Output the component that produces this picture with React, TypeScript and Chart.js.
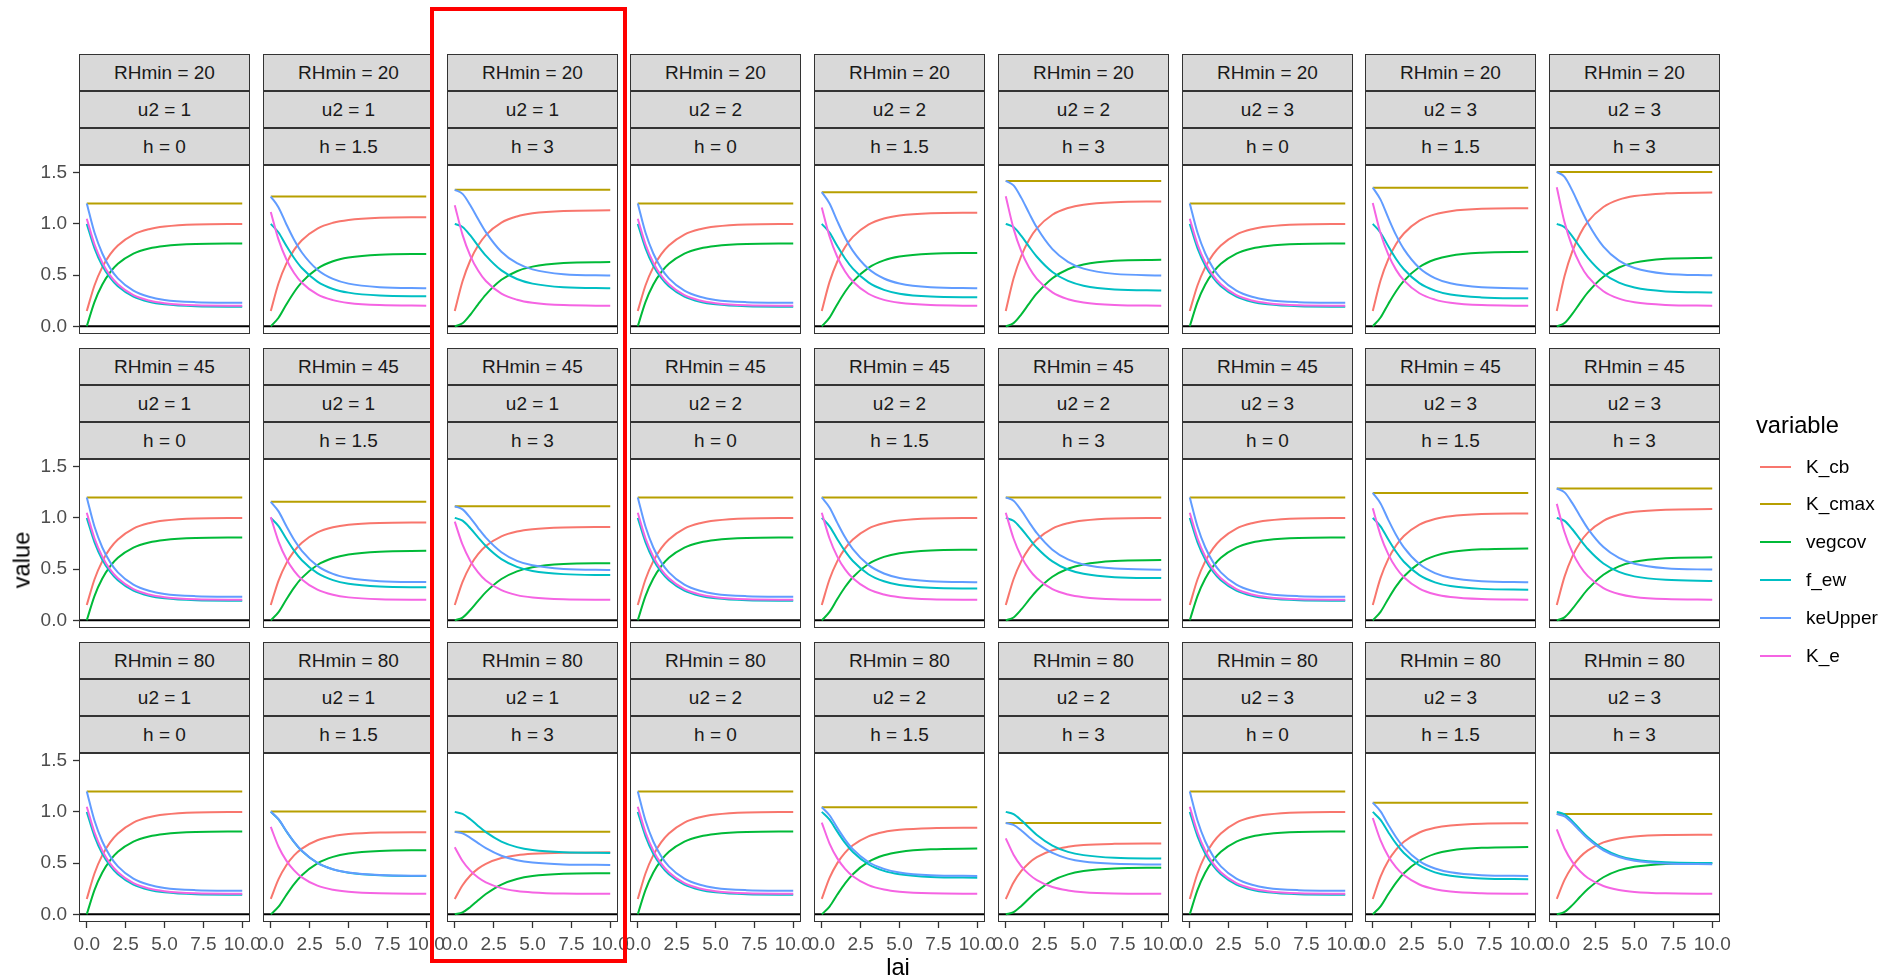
import React, { useEffect, useRef } from 'react';
import { Chart, registerables } from 'chart.js';

Chart.register(...registerables);

const FONT = '"Liberation Sans", Arial, Helvetica, sans-serif';

// ---------------- data ----------------
const rhminLevels = [20, 45, 80];
const u2Levels = [1, 1, 1, 2, 2, 2, 3, 3, 3];
const hLevels = ['0', '1.5', '3', '0', '1.5', '3', '0', '1.5', '3'];
const variableNames = ['K_cb', 'K_cmax', 'vegcov', 'f_ew', 'keUpper', 'K_e'];
const variableColors = ['#F8766D', '#B79F00', '#00BA38', '#00BFC4', '#619CFF', '#F564E3'];
const lai = [0, 0.5, 1, 1.5, 2, 3, 4, 5, 7, 10];
const laiRange = [0, 10];
const hlineValue = 0;
const xTickValues = [0, 2.5, 5, 7.5, 10];
const xTickLabels = ['0.0', '2.5', '5.0', '7.5', '10.0'];
const yTickValues = [0, 0.5, 1, 1.5];
const yTickLabels = ['0.0', '0.5', '1.0', '1.5'];

// K_cmax (constant in lai) per panel, rows RHmin 20 / 45 / 80
const kcmaxRH20 = [1.2, 1.267, 1.333, 1.2, 1.31, 1.42, 1.2, 1.354, 1.507];
const kcmaxRH45 = [1.2, 1.157, 1.113, 1.2, 1.2, 1.2, 1.2, 1.244, 1.287];
const kcmaxRH80 = [1.2, 1.003, 0.805, 1.2, 1.046, 0.892, 1.2, 1.09, 0.979];

// h = 0 panels (identical for every RHmin / u2)
const H0_KCB = [0.15, 0.401, 0.578, 0.703, 0.79, 0.896, 0.948, 0.974, 0.994, 0.999];
const H0_VEG = [0, 0.239, 0.408, 0.526, 0.61, 0.71, 0.76, 0.785, 0.804, 0.809];
const H0_FEW = [1, 0.761, 0.592, 0.474, 0.39, 0.29, 0.24, 0.215, 0.196, 0.191];
const H0_KEU = [1.2, 0.913, 0.711, 0.568, 0.468, 0.348, 0.288, 0.258, 0.236, 0.229];
const H0_KE = [1.05, 0.799, 0.622, 0.497, 0.41, 0.304, 0.252, 0.226, 0.206, 0.201];

const kcbRH20 = [
  H0_KCB,
  [0.15, 0.421, 0.612, 0.746, 0.841, 0.955, 1.011, 1.039, 1.06, 1.066],
  [0.15, 0.44, 0.645, 0.789, 0.891, 1.013, 1.073, 1.103, 1.126, 1.132],
  H0_KCB,
  [0.15, 0.434, 0.633, 0.774, 0.873, 0.992, 1.052, 1.081, 1.103, 1.109],
  [0.15, 0.466, 0.689, 0.846, 0.956, 1.089, 1.155, 1.188, 1.212, 1.219],
  H0_KCB,
  [0.15, 0.447, 0.655, 0.803, 0.906, 1.031, 1.093, 1.124, 1.147, 1.153],
  [0.15, 0.492, 0.732, 0.902, 1.022, 1.165, 1.237, 1.272, 1.298, 1.306],
];
const kcbRH45 = [
  H0_KCB,
  [0.15, 0.388, 0.556, 0.675, 0.758, 0.858, 0.908, 0.933, 0.951, 0.956],
  [0.15, 0.375, 0.534, 0.646, 0.725, 0.82, 0.867, 0.89, 0.907, 0.912],
  H0_KCB,
  H0_KCB,
  H0_KCB,
  H0_KCB,
  [0.15, 0.414, 0.6, 0.731, 0.824, 0.935, 0.99, 1.017, 1.037, 1.043],
  [0.15, 0.427, 0.622, 0.759, 0.856, 0.972, 1.03, 1.059, 1.08, 1.086],
];
const kcbRH80 = [
  H0_KCB,
  [0.15, 0.343, 0.479, 0.575, 0.642, 0.723, 0.763, 0.783, 0.798, 0.802],
  [0.15, 0.284, 0.379, 0.446, 0.493, 0.549, 0.577, 0.591, 0.602, 0.605],
  H0_KCB,
  [0.15, 0.356, 0.5, 0.603, 0.674, 0.761, 0.804, 0.825, 0.841, 0.845],
  [0.15, 0.31, 0.423, 0.502, 0.558, 0.626, 0.659, 0.676, 0.688, 0.692],
  H0_KCB,
  [0.15, 0.369, 0.523, 0.631, 0.708, 0.799, 0.845, 0.868, 0.885, 0.889],
  [0.15, 0.336, 0.467, 0.559, 0.624, 0.702, 0.741, 0.76, 0.774, 0.778],
];

const vegRH20 = [
  H0_VEG,
  [0, 0.084, 0.213, 0.333, 0.431, 0.563, 0.635, 0.671, 0.699, 0.707],
  [0, 0.03, 0.113, 0.215, 0.31, 0.454, 0.538, 0.583, 0.618, 0.628],
  H0_VEG,
  [0, 0.085, 0.216, 0.338, 0.437, 0.571, 0.644, 0.681, 0.709, 0.717],
  [0, 0.031, 0.117, 0.222, 0.321, 0.47, 0.557, 0.603, 0.64, 0.65],
  H0_VEG,
  [0, 0.086, 0.219, 0.343, 0.443, 0.579, 0.652, 0.69, 0.718, 0.727],
  [0, 0.032, 0.121, 0.229, 0.331, 0.484, 0.574, 0.622, 0.659, 0.67],
];
const vegRH45 = [
  H0_VEG,
  [0, 0.08, 0.204, 0.32, 0.414, 0.54, 0.608, 0.643, 0.67, 0.678],
  [0, 0.027, 0.101, 0.19, 0.275, 0.403, 0.478, 0.518, 0.549, 0.558],
  H0_VEG,
  [0, 0.082, 0.208, 0.325, 0.421, 0.55, 0.619, 0.655, 0.682, 0.69],
  [0, 0.028, 0.106, 0.201, 0.291, 0.425, 0.504, 0.546, 0.579, 0.588],
  H0_VEG,
  [0, 0.083, 0.211, 0.331, 0.428, 0.559, 0.629, 0.666, 0.693, 0.701],
  [0, 0.029, 0.111, 0.21, 0.304, 0.445, 0.527, 0.571, 0.605, 0.615],
];
const vegRH80 = [
  H0_VEG,
  [0, 0.074, 0.189, 0.295, 0.382, 0.498, 0.561, 0.594, 0.619, 0.626],
  [0, 0.019, 0.072, 0.137, 0.198, 0.29, 0.344, 0.373, 0.395, 0.401],
  H0_VEG,
  [0, 0.076, 0.193, 0.303, 0.392, 0.511, 0.576, 0.609, 0.635, 0.642],
  [0, 0.022, 0.082, 0.155, 0.225, 0.329, 0.39, 0.422, 0.448, 0.455],
  H0_VEG,
  [0, 0.078, 0.198, 0.31, 0.401, 0.523, 0.59, 0.624, 0.65, 0.657],
  [0, 0.024, 0.09, 0.171, 0.247, 0.362, 0.429, 0.464, 0.492, 0.5],
];

const fewRH20 = [
  H0_FEW,
  [1, 0.916, 0.787, 0.667, 0.569, 0.437, 0.365, 0.329, 0.301, 0.293],
  [1, 0.97, 0.887, 0.785, 0.69, 0.546, 0.462, 0.417, 0.382, 0.372],
  H0_FEW,
  [1, 0.915, 0.784, 0.662, 0.563, 0.429, 0.356, 0.319, 0.291, 0.283],
  [1, 0.969, 0.883, 0.778, 0.679, 0.53, 0.443, 0.397, 0.36, 0.35],
  H0_FEW,
  [1, 0.914, 0.781, 0.657, 0.557, 0.421, 0.348, 0.31, 0.282, 0.273],
  [1, 0.968, 0.879, 0.771, 0.669, 0.516, 0.426, 0.378, 0.341, 0.33],
];
const fewRH45 = [
  H0_FEW,
  [1, 0.92, 0.796, 0.68, 0.586, 0.46, 0.392, 0.357, 0.33, 0.322],
  [1, 0.973, 0.899, 0.81, 0.725, 0.597, 0.522, 0.482, 0.451, 0.442],
  H0_FEW,
  [1, 0.918, 0.792, 0.675, 0.579, 0.45, 0.381, 0.345, 0.318, 0.31],
  [1, 0.972, 0.894, 0.799, 0.709, 0.575, 0.496, 0.454, 0.421, 0.412],
  H0_FEW,
  [1, 0.917, 0.789, 0.669, 0.572, 0.441, 0.371, 0.334, 0.307, 0.299],
  [1, 0.971, 0.889, 0.79, 0.696, 0.555, 0.473, 0.429, 0.395, 0.385],
];
const fewRH80 = [
  H0_FEW,
  [1, 0.926, 0.811, 0.705, 0.618, 0.502, 0.439, 0.406, 0.381, 0.374],
  [1, 0.981, 0.928, 0.863, 0.802, 0.71, 0.656, 0.627, 0.605, 0.599],
  H0_FEW,
  [1, 0.924, 0.807, 0.697, 0.608, 0.489, 0.424, 0.391, 0.365, 0.358],
  [1, 0.978, 0.918, 0.845, 0.775, 0.671, 0.61, 0.578, 0.552, 0.545],
  H0_FEW,
  [1, 0.922, 0.802, 0.69, 0.599, 0.477, 0.41, 0.376, 0.35, 0.343],
  [1, 0.976, 0.91, 0.829, 0.753, 0.638, 0.571, 0.536, 0.508, 0.5],
];

const keuRH20 = [
  H0_KEU,
  [1.267, 1.161, 0.997, 0.845, 0.721, 0.553, 0.463, 0.417, 0.382, 0.371],
  [1.333, 1.293, 1.182, 1.047, 0.92, 0.728, 0.616, 0.556, 0.509, 0.496],
  H0_KEU,
  [1.31, 1.199, 1.027, 0.867, 0.737, 0.562, 0.467, 0.419, 0.382, 0.371],
  [1.42, 1.376, 1.254, 1.105, 0.964, 0.753, 0.629, 0.563, 0.512, 0.497],
  H0_KEU,
  [1.354, 1.237, 1.058, 0.89, 0.754, 0.57, 0.471, 0.42, 0.381, 0.37],
  [1.507, 1.459, 1.325, 1.162, 1.009, 0.778, 0.642, 0.57, 0.514, 0.498],
];
const keuRH45 = [
  H0_KEU,
  [1.157, 1.064, 0.921, 0.787, 0.679, 0.532, 0.453, 0.413, 0.382, 0.373],
  [1.113, 1.083, 1.001, 0.901, 0.807, 0.665, 0.581, 0.537, 0.502, 0.492],
  H0_KEU,
  [1.2, 1.102, 0.951, 0.81, 0.695, 0.541, 0.457, 0.414, 0.382, 0.372],
  [1.2, 1.167, 1.073, 0.959, 0.851, 0.69, 0.595, 0.545, 0.505, 0.494],
  H0_KEU,
  [1.244, 1.141, 0.981, 0.833, 0.712, 0.549, 0.461, 0.416, 0.382, 0.372],
  [1.287, 1.249, 1.144, 1.017, 0.896, 0.715, 0.609, 0.552, 0.508, 0.495],
];
const keuRH80 = [
  H0_KEU,
  [1.003, 0.929, 0.814, 0.707, 0.62, 0.503, 0.44, 0.408, 0.383, 0.376],
  [0.805, 0.79, 0.747, 0.695, 0.646, 0.572, 0.528, 0.505, 0.487, 0.482],
  H0_KEU,
  [1.046, 0.967, 0.844, 0.73, 0.636, 0.511, 0.444, 0.409, 0.382, 0.375],
  [0.892, 0.873, 0.819, 0.753, 0.692, 0.599, 0.544, 0.515, 0.493, 0.486],
  H0_KEU,
  [1.09, 1.005, 0.874, 0.752, 0.653, 0.52, 0.447, 0.41, 0.382, 0.374],
  [0.979, 0.956, 0.891, 0.812, 0.737, 0.625, 0.559, 0.524, 0.497, 0.489],
];

const keRH20 = [
  H0_KE,
  [1.117, 0.846, 0.655, 0.521, 0.426, 0.312, 0.256, 0.228, 0.207, 0.201],
  [1.183, 0.893, 0.688, 0.544, 0.442, 0.32, 0.26, 0.23, 0.207, 0.201],
  H0_KE,
  [1.16, 0.877, 0.677, 0.536, 0.437, 0.318, 0.258, 0.229, 0.207, 0.201],
  [1.27, 0.954, 0.731, 0.574, 0.464, 0.331, 0.265, 0.232, 0.208, 0.201],
  H0_KE,
  [1.204, 0.908, 0.699, 0.551, 0.448, 0.323, 0.261, 0.23, 0.207, 0.201],
  [1.357, 1.015, 0.775, 0.605, 0.485, 0.342, 0.27, 0.235, 0.209, 0.201],
];
const keRH45 = [
  H0_KE,
  [1.007, 0.769, 0.601, 0.482, 0.399, 0.299, 0.249, 0.224, 0.206, 0.201],
  [0.963, 0.738, 0.579, 0.467, 0.388, 0.294, 0.246, 0.223, 0.206, 0.201],
  H0_KE,
  H0_KE,
  H0_KE,
  H0_KE,
  [1.094, 0.83, 0.644, 0.513, 0.421, 0.31, 0.254, 0.227, 0.207, 0.201],
  [1.137, 0.86, 0.665, 0.528, 0.431, 0.315, 0.257, 0.228, 0.207, 0.201],
];
const keRH80 = [
  H0_KE,
  [0.853, 0.66, 0.524, 0.429, 0.361, 0.28, 0.24, 0.22, 0.205, 0.201],
  [0.655, 0.521, 0.426, 0.359, 0.312, 0.256, 0.228, 0.214, 0.203, 0.2],
  H0_KE,
  [0.896, 0.691, 0.546, 0.444, 0.372, 0.285, 0.242, 0.221, 0.205, 0.201],
  [0.742, 0.582, 0.469, 0.39, 0.334, 0.266, 0.233, 0.216, 0.204, 0.201],
  H0_KE,
  [0.94, 0.722, 0.568, 0.459, 0.383, 0.291, 0.245, 0.222, 0.206, 0.201],
  [0.829, 0.643, 0.512, 0.42, 0.355, 0.277, 0.238, 0.219, 0.205, 0.201],
];

const kcmaxRows = [kcmaxRH20, kcmaxRH45, kcmaxRH80];
const kcbRows = [kcbRH20, kcbRH45, kcbRH80];
const vegRows = [vegRH20, vegRH45, vegRH80];
const fewRows = [fewRH20, fewRH45, fewRH80];
const keuRows = [keuRH20, keuRH45, keuRH80];
const keRows = [keRH20, keRH45, keRH80];

// ---------------- layout ----------------
const panelLefts = [79, 263, 447, 630, 814, 998, 1182, 1365, 1549];
const panelTops = [165, 459, 753];
const panelW = 171;
const panelH = 169;
const stripH = 37;

const framePlugin = {
  id: 'panelFrame',
  beforeDatasetsDraw(chart: any) {
    const { ctx, chartArea: a, scales } = chart;
    const y0 = scales.y.getPixelForValue(hlineValue);
    ctx.save();
    ctx.strokeStyle = '#000000';
    ctx.lineWidth = 2;
    ctx.beginPath();
    ctx.moveTo(a.left, y0);
    ctx.lineTo(a.right, y0);
    ctx.stroke();
    ctx.restore();
  },
  afterDraw(chart: any) {
    const { ctx, chartArea: a } = chart;
    ctx.save();
    ctx.strokeStyle = '#333333';
    ctx.lineWidth = 1;
    ctx.strokeRect(a.left + 0.5, a.top + 0.5, a.right - a.left - 1, a.bottom - a.top - 1);
    ctx.restore();
  },
};

function Panel({ row, col }: { row: number; col: number }) {
  const ref = useRef<HTMLCanvasElement>(null);
  const showY = col === 0;
  const showX = row === 2;
  const L = panelLefts[col];
  const T = panelTops[row];
  const padL = showY ? L : 40;
  const padR = 40;
  const padT = 30;
  const padB = showX ? 56 : 30;
  const cw = panelW + padL + padR;
  const ch = panelH + padT + padB;

  useEffect(() => {
    const C = kcmaxRows[row][col];
    const curves = [
      kcbRows[row][col],
      null,
      vegRows[row][col],
      fewRows[row][col],
      keuRows[row][col],
      keRows[row][col],
    ];
    const datasets = variableNames.map((name, i) => {
      const arr = curves[i];
      const data = arr
        ? arr.map((y: number, j: number) => ({ x: lai[j], y }))
        : laiRange.map((x) => ({ x, y: C }));
      return {
        label: name,
        data,
        borderColor: variableColors[i],
        backgroundColor: variableColors[i],
        borderWidth: 2,
        pointRadius: 0,
        fill: false,
        tension: 0,
        cubicInterpolationMode: 'monotone' as const,
        order: 6 - i,
      };
    });
    const tickFont = { family: FONT, size: 19 };
    const chart = new Chart(ref.current as HTMLCanvasElement, {
      type: 'line',
      data: { datasets },
      plugins: [framePlugin],
      options: {
        responsive: false,
        animation: false,
        devicePixelRatio: 1,
        layout: {
          autoPadding: false,
          padding: {
            left: showY ? 0 : padL,
            right: padR,
            top: padT,
            bottom: showX ? 0 : padB,
          },
        },
        plugins: { legend: { display: false }, tooltip: { enabled: false } },
        scales: {
          x: {
            type: 'linear',
            min: -0.5,
            max: 10.5,
            display: showX,
            afterFit: (s: any) => {
              s.height = showX ? padB : 0;
            },
            afterBuildTicks: (s: any) => {
              s.ticks = xTickValues.map((v) => ({ value: v }));
            },
            ticks: {
              autoSkip: false,
              maxRotation: 0,
              minRotation: 0,
              padding: 5,
              color: '#4D4D4D',
              font: tickFont,
              callback: (_v: any, i: number) => xTickLabels[i],
            },
            grid: {
              drawOnChartArea: false,
              drawTicks: true,
              tickLength: 6,
              tickColor: '#333333',
              tickWidth: 1.3,
            },
            border: { display: false },
          },
          y: {
            type: 'linear',
            min: -0.075,
            max: 1.575,
            display: showY,
            afterFit: (s: any) => {
              s.width = showY ? padL : 0;
            },
            afterBuildTicks: (s: any) => {
              s.ticks = yTickValues.map((v) => ({ value: v }));
            },
            ticks: {
              autoSkip: false,
              padding: 6,
              color: '#4D4D4D',
              font: tickFont,
              callback: (_v: any, i: number) => yTickLabels[i],
            },
            grid: {
              drawOnChartArea: false,
              drawTicks: true,
              tickLength: 6,
              tickColor: '#333333',
              tickWidth: 1.3,
            },
            border: { display: false },
          },
        },
      } as any,
    });
    return () => chart.destroy();
  }, []);

  const labels = [`RHmin = ${rhminLevels[row]}`, `u2 = ${u2Levels[col]}`, `h = ${hLevels[col]}`];
  return (
    <>
      {labels.map((t, i) => (
        <div
          key={i}
          style={{
            position: 'absolute',
            left: L,
            top: T - 3 * stripH + i * stripH,
            width: panelW,
            height: stripH,
            boxSizing: 'border-box',
            border: '1px solid #333333',
            background: '#D9D9D9',
            display: 'flex',
            alignItems: 'center',
            justifyContent: 'center',
            fontFamily: FONT,
            fontSize: 19,
            color: '#1A1A1A',
            whiteSpace: 'nowrap',
          }}
        >
          {t}
        </div>
      ))}
      <canvas
        ref={ref}
        width={cw}
        height={ch}
        style={{ position: 'absolute', left: L - padL, top: T - padT, width: cw, height: ch }}
      />
    </>
  );
}

export default function App() {
  const panels: JSX.Element[] = [];
  for (let r = 0; r < 3; r++) for (let c = 0; c < 9; c++) panels.push(<Panel key={`${r}-${c}`} row={r} col={c} />);
  const legendTop = 466.5;
  const legendStep = 37.8;
  return (
    <div
      style={{
        position: 'absolute',
        left: 0,
        top: 0,
        width: 1889,
        height: 979,
        background: '#FFFFFF',
        overflow: 'hidden',
        fontFamily: FONT,
      }}
    >
      {panels}
      {/* axis titles */}
      <div
        style={{
          position: 'absolute',
          left: 22,
          top: 560,
          transform: 'translate(-50%, -50%) rotate(-90deg)',
          fontSize: 23.7,
          color: '#000',
          whiteSpace: 'nowrap',
        }}
      >
        value
      </div>
      <div
        style={{
          position: 'absolute',
          left: 898,
          top: 967,
          transform: 'translate(-50%, -50%)',
          fontSize: 23.7,
          color: '#000',
          whiteSpace: 'nowrap',
        }}
      >
        lai
      </div>
      {/* legend */}
      <div
        style={{
          position: 'absolute',
          left: 1756,
          top: 425,
          transform: 'translate(0, -50%)',
          fontSize: 23.7,
          color: '#000',
          whiteSpace: 'nowrap',
        }}
      >
        variable
      </div>
      {variableNames.map((n, i) => (
        <React.Fragment key={n}>
          <div
            style={{
              position: 'absolute',
              left: 1760,
              top: legendTop + i * legendStep - 1,
              width: 31,
              height: 2,
              background: variableColors[i],
            }}
          />
          <div
            style={{
              position: 'absolute',
              left: 1806,
              top: legendTop + i * legendStep,
              transform: 'translate(0, -50%)',
              fontSize: 19,
              color: '#000',
              whiteSpace: 'nowrap',
            }}
          >
            {n}
          </div>
        </React.Fragment>
      ))}
      {/* highlight rectangle */}
      <div
        style={{
          position: 'absolute',
          left: 430,
          top: 7,
          width: 197,
          height: 956,
          boxSizing: 'border-box',
          border: '4px solid #FF0000',
        }}
      />
    </div>
  );
}
